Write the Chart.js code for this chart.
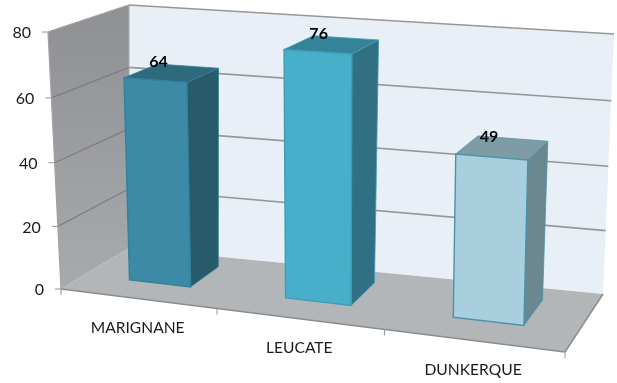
<!DOCTYPE html>
<html>
<head>
<meta charset="utf-8">
<style>
    html, body { margin: 0; padding: 0; background: #fff; }
    canvas { display: block; }
</style>
<script src="https://cdn.jsdelivr.net/npm/chart.js@4"></script>
</head>
<body>
<canvas id="chart" width="617" height="383"></canvas>
<script>
const categories = ['MARIGNANE', 'LEUCATE', 'DUNKERQUE'];
const values = [64, 76, 49];
const frontColors = ['#3d8aa6', '#48afcb', '#a9cede'];
const topColors = ['#2f6a7c', '#358399', '#7f9ca6'];
const sideColors = ['#285b6a', '#316f82', '#6b8790'];
const edgeColors = ['#35809a', '#3f9cb6', '#4b93aa'];

// corners of the 3D box as they land on the picture
const frontBox = { tl: [48, 32], tr: [572, 67], bl: [61, 289], br: [565, 352] };
const backBox = { tl: [129, 5], tr: [614, 34], bl: [129, 248], br: [603, 294] };
const barFront = 0.35;
const barBack = 0.8;

function warp(t, r) {
    return t / (t + r * (1 - t));
}

function lerp(a, b, t) {
    return [a[0] + (b[0] - a[0]) * t, a[1] + (b[1] - a[1]) * t];
}

// u, v are 0..1 along the flat chart area, d is depth (0 front, 1 back wall)
function project(u, v, d) {
    let uu = warp(u, 1.115);
    let vv = warp(v, 1.035);
    let tl = lerp(frontBox.tl, backBox.tl, d);
    let tr = lerp(frontBox.tr, backBox.tr, d);
    let bl = lerp(frontBox.bl, backBox.bl, d);
    let br = lerp(frontBox.br, backBox.br, d);
    return lerp(lerp(bl, br, uu), lerp(tl, tr, uu), vv);
}

function face(ctx, pts, fill, stroke, lineWidth) {
    ctx.beginPath();
    ctx.moveTo(pts[0][0], pts[0][1]);
    for (let i = 1; i < pts.length; i++) {
        ctx.lineTo(pts[i][0], pts[i][1]);
    }
    ctx.closePath();
    if (fill) {
        ctx.fillStyle = fill;
        ctx.fill();
    }
    if (stroke) {
        ctx.strokeStyle = stroke;
        ctx.lineWidth = lineWidth || 1;
        ctx.stroke();
    }
}

function segment(ctx, a, b, color, lineWidth) {
    ctx.beginPath();
    ctx.moveTo(a[0], a[1]);
    ctx.lineTo(b[0], b[1]);
    ctx.strokeStyle = color;
    ctx.lineWidth = lineWidth;
    ctx.stroke();
}

const box3d = {
    id: 'box3d',
    afterDatasetsDraw: (chart) => {
        const ctx = chart.ctx;
        const area = chart.chartArea;
        const xScale = chart.scales.x;
        const yScale = chart.scales.y;
        const toU = (px) => (px - area.left) / (area.right - area.left);
        const toV = (py) => (area.bottom - py) / (area.bottom - area.top);

        ctx.save();

        // walls and floor
        const wallGrad = ctx.createLinearGradient(0, 20, 0, 290);
        wallGrad.addColorStop(0, '#8f9195');
        wallGrad.addColorStop(1, '#a8aaad');
        face(ctx, [project(0, 0, 1), project(1, 0, 1), project(1, 1, 1), project(0, 1, 1)], '#e8eff6');
        face(ctx, [project(0, 0, 0), project(0, 0, 1), project(0, 1, 1), project(0, 1, 0)], wallGrad);
        face(ctx, [project(0, 0, 0), project(1, 0, 0), project(1, 0, 1), project(0, 0, 1)], '#b3b6b9');

        // grid lines and value ticks
        yScale.ticks.forEach((tick) => {
            let v = toV(yScale.getPixelForValue(tick.value));
            let front = project(0, v, 0);
            if (tick.value > 0) {
                segment(ctx, front, project(0, v, 1), '#7e7e7e', 1.2);
                segment(ctx, project(0, v, 1), project(1, v, 1), '#979797', 1.6);
            }
            segment(ctx, front, [front[0] - 6, front[1]], '#969696', 1);
            ctx.fillStyle = '#1a1a1a';
            ctx.font = '16px Lato';
            ctx.textAlign = 'right';
            ctx.textBaseline = 'middle';
            ctx.fillText(String(tick.value), front[0] - 17, front[1] + 1);
        });

        // frame
        segment(ctx, project(0, 0, 0), project(0, 1, 0), '#a3a3a3', 1.2);
        segment(ctx, project(0, 1, 0), project(0, 1, 1), '#a8a8a8', 1.2);
        segment(ctx, project(0, 1, 1), project(0, 0, 1), '#a8a8a8', 1);
        segment(ctx, project(0, 0, 0), project(1, 0, 0), '#8c8c8c', 1.5);
        segment(ctx, project(1, 0, 0), project(1, 0, 1), '#8c8c8c', 1.5);

        // category ticks and labels
        categories.forEach((name, i) => {
            let center = xScale.getPixelForValue(i);
            let p = project(toU(center), 0, 0);
            ctx.fillStyle = '#1a1a1a';
            ctx.font = '15.6px Lato';
            ctx.textAlign = 'center';
            ctx.textBaseline = 'middle';
            ctx.fillText(xScale.getLabelForValue(i), p[0], p[1] + 29);
        });
        for (let i = 0; i <= categories.length; i++) {
            let p = project(i / categories.length, 0, 0);
            segment(ctx, p, [p[0], p[1] + 6], '#969696', 1);
        }

        // bars, using the geometry chart.js worked out for them
        chart.getDatasetMeta(0).data.forEach((bar, i) => {
            let u0 = toU(bar.x - bar.width / 2);
            let u1 = toU(bar.x + bar.width / 2);
            let top = toV(bar.y);
            let base = toV(bar.base);
            face(ctx, [project(u1, base, barFront), project(u1, base, barBack), project(u1, top, barBack), project(u1, top, barFront)], sideColors[i], edgeColors[i], 0.8);
            face(ctx, [project(u0, top, barFront), project(u1, top, barFront), project(u1, top, barBack), project(u0, top, barBack)], topColors[i], edgeColors[i], 0.8);
            face(ctx, [project(u0, base, barFront), project(u1, base, barFront), project(u1, top, barFront), project(u0, top, barFront)], frontColors[i], edgeColors[i], 1.4);
        });

        // value labels sit over the top face
        chart.getDatasetMeta(0).data.forEach((bar, i) => {
            let c = project(toU(bar.x), toV(bar.y), (barFront + barBack) / 2);
            ctx.fillStyle = '#000';
            ctx.font = 'bold 16px Lato';
            ctx.textAlign = 'center';
            ctx.textBaseline = 'middle';
            ctx.fillText(String(values[i]), c[0] - 13, c[1] - 11);
        });

        ctx.restore();
    }
};

const chart = new Chart(document.getElementById('chart'), {
    type: 'bar',
    data: {
        labels: categories,
        datasets: [{
            data: values,
            backgroundColor: 'rgba(0, 0, 0, 0)',
            borderWidth: 0,
            barPercentage: 0.4,
            categoryPercentage: 1
        }]
    },
    options: {
        responsive: false,
        animation: false,
        events: [],
        layout: { padding: 0 },
        plugins: {
            legend: { display: false },
            tooltip: { enabled: false }
        },
        scales: {
            x: { display: false },
            y: { display: false, min: 0, max: 80, ticks: { stepSize: 20 } }
        }
    },
    plugins: [box3d]
});
</script>
</body>
</html>
